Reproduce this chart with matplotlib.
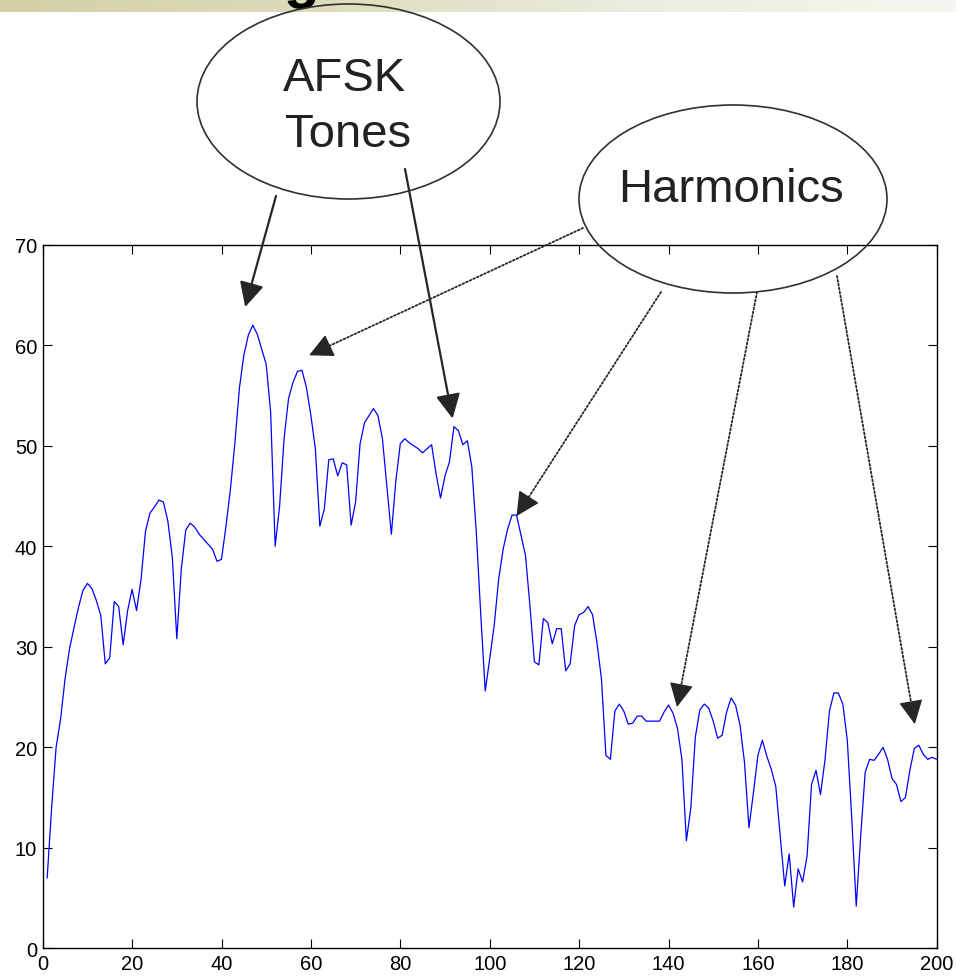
import matplotlib
matplotlib.use('Agg')
import matplotlib.pyplot as plt
import numpy as np
from matplotlib.patches import Ellipse
from matplotlib.colors import LinearSegmentedColormap

plt.rcParams['font.family'] = ['Liberation Sans', 'DejaVu Sans']

W, H = 956, 978

# spectrum magnitude, one value per bin (bins 1..200)
bins = np.arange(1, 201)
level = [
    7.0, 14.0, 20.0, 22.8, 26.8, 29.8, 31.9, 33.9, 35.6, 36.3,
    35.8, 34.6, 33.1, 28.3, 28.9, 34.5, 34.0, 30.2, 33.6, 35.7,
    33.6, 36.7, 41.5, 43.3, 43.9, 44.6, 44.4, 42.5, 38.9, 30.8,
    37.7, 41.6, 42.3, 41.9, 41.2, 40.7, 40.2, 39.7, 38.5, 38.7,
    42.0, 45.7, 50.3, 55.7, 59.0, 61.0, 62.0, 61.1, 59.6, 58.1,
    53.3, 40.0, 44.0, 50.7, 54.7, 56.3, 57.4, 57.5, 55.8, 53.0,
    49.7, 42.0, 43.7, 48.6, 48.7, 47.0, 48.3, 48.1, 42.1, 44.4,
    50.2, 52.3, 53.0, 53.7, 53.0, 50.7, 46.0, 41.2, 46.5, 50.2,
    50.7, 50.3, 50.0, 49.7, 49.3, 49.7, 50.1, 47.2, 44.8, 47.0,
    48.4, 51.9, 51.5, 50.1, 50.5, 47.9, 41.4, 33.2, 25.6, 28.8,
    32.1, 36.7, 39.7, 41.7, 43.1, 43.1, 41.1, 39.1, 34.1, 28.5,
    28.2, 32.8, 32.4, 30.3, 31.8, 31.8, 27.6, 28.3, 32.1, 33.2,
    33.4, 34.0, 33.2, 30.4, 26.8, 19.2, 18.8, 23.6, 24.3, 23.6,
    22.3, 22.4, 23.1, 23.1, 22.6, 22.6, 22.6, 22.6, 23.5, 24.2,
    23.4, 21.9, 18.8, 10.7, 14.0, 21.0, 23.7, 24.3, 23.9, 22.6,
    20.9, 21.2, 23.5, 24.9, 24.2, 22.2, 18.5, 12.0, 15.5, 19.2,
    20.7, 19.1, 17.8, 16.1, 11.2, 6.2, 9.4, 4.1, 7.9, 6.6,
    9.2, 16.3, 17.7, 15.3, 18.7, 23.6, 25.4, 25.4, 24.3, 20.7,
    12.9, 4.2, 11.2, 17.5, 18.8, 18.7, 19.3, 20.0, 18.8, 16.9,
    16.3, 14.6, 15.0, 17.7, 19.9, 20.2, 19.3, 18.8, 19.0, 18.8,
]

xticks = [0, 20, 40, 60, 80, 100, 120, 140, 160, 180, 200]
yticks = [0, 10, 20, 30, 40, 50, 60, 70]

# callouts: (bin, level) the arrow points at, and arrow start in pixels
tones_targets = [(45.3, 63.8), (91.7, 52.7)]
tones_starts = [(276, 197), (405, 170)]
harm_targets = [(59.6, 59.0), (106.0, 43.0), (141.9, 24.0), (195.1, 22.3)]
harm_starts = [(583, 229), (661, 293), (757, 293), (837, 277)]

ink = '#262626'
head = '-|>,head_length=1.0,head_width=0.5'

fig = plt.figure(figsize=(W / 100, H / 100), dpi=100)

# slide header strip (gradient)
hdr = fig.add_axes([0, 1 - 12.7 / H, 1, 12.7 / H])
cmap = LinearSegmentedColormap.from_list('hdr', ['#d2d1a5', '#dcdcbc', '#ecece0', '#f7f7f2'])
hdr.imshow(np.linspace(0, 1, 256)[None, :], aspect='auto', cmap=cmap)
hdr.axis('off')
fig.text(301 / W, 1 + 3.0 / H, 'g', fontsize=42, fontweight='bold',
         ha='center', va='baseline', color='black')

ax = fig.add_axes([42.7 / W, 1 - 949.3 / H, 894 / W, 703.6 / H])
ax.plot(bins, level, color='#0000ff', lw=0.9)
ax.set_xlim(0, 200)
ax.set_ylim(0, 70)
ax.set_xticks(xticks)
ax.set_yticks(yticks)
ax.tick_params(direction='in', length=6.5, width=0.8, top=True, right=True,
               labelsize=14.5, pad=4, colors='black')
for s in ax.spines.values():
    s.set_linewidth(1.0)


def fig_px(p):
    return (p[0], H - p[1])


# ellipses with labels
e1 = Ellipse((348.5 / W, 1 - 102.5 / H), 303 / W, 195 / H, transform=fig.transFigure,
             facecolor='none', edgecolor='#303030', lw=1.2, zorder=5)
e2 = Ellipse((733 / W, 1 - 200 / H), 308 / W, 188 / H, transform=fig.transFigure,
             facecolor='none', edgecolor='#303030', lw=1.2, zorder=5)
fig.add_artist(e1)
fig.add_artist(e2)
fig.text(345 / W, 1 - 79 / H, 'AFSK', fontsize=34, ha='center', va='center', color='#222222')
fig.text(348 / W, 1 - 135 / H, 'Tones', fontsize=34, ha='center', va='center', color='#222222')
fig.text(731 / W, 1 - 190 / H, 'Harmonics', fontsize=34, ha='center', va='center', color='#222222')

for tgt, st in zip(tones_targets, tones_starts):
    ax.annotate('', xy=tgt, xycoords='data', xytext=fig_px(st), textcoords='figure pixels',
                annotation_clip=False,
                arrowprops=dict(arrowstyle=head, color=ink, lw=1.6,
                                shrinkA=0, shrinkB=0, mutation_scale=15))

for tgt, st in zip(harm_targets, harm_starts):
    # dotted shaft
    ax.annotate('', xy=tgt, xycoords='data', xytext=fig_px(st), textcoords='figure pixels',
                annotation_clip=False,
                arrowprops=dict(arrowstyle='-', color=ink, lw=1.3, ls=(0, (1, 1.2)),
                                shrinkA=0, shrinkB=14))
    # solid head
    tx, ty = ax.transData.transform(tgt)
    sx, sy = fig_px(st)
    d = np.hypot(tx - sx, ty - sy)
    bx, by = tx + (sx - tx) * 20 / d, ty + (sy - ty) * 20 / d
    ax.annotate('', xy=tgt, xycoords='data', xytext=(bx, by), textcoords='figure pixels',
                annotation_clip=False,
                arrowprops=dict(arrowstyle=head, color=ink, lw=1.0,
                                shrinkA=0, shrinkB=0, mutation_scale=15))

fig.savefig('out.png', dpi=100)
